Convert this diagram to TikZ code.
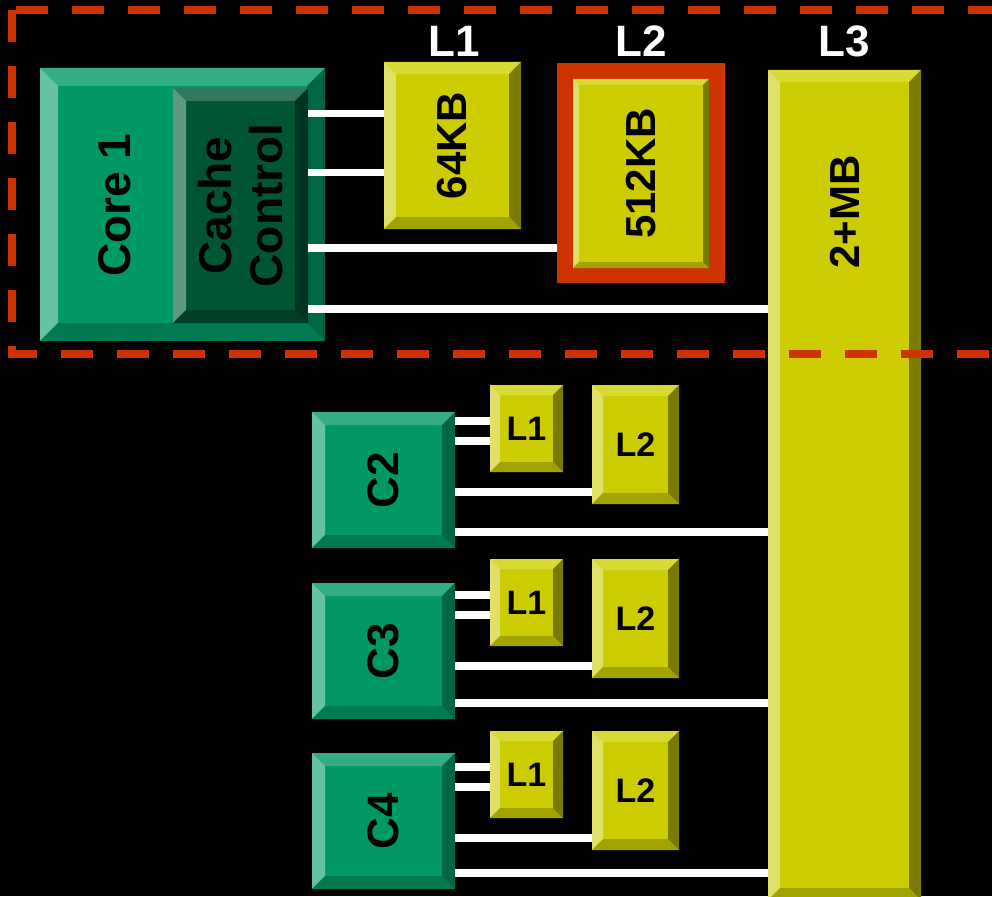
\documentclass[tikz,border=0pt]{standalone}
\usepackage{fontspec}
\setmainfont{Liberation Sans}
\usepackage{graphicx}

\definecolor{frame}{RGB}{204,51,0}
\definecolor{g}{RGB}{0,153,102}
\definecolor{gtop}{RGB}{51,173,133}
\definecolor{gleft}{RGB}{102,194,163}
\definecolor{gbot}{RGB}{0,122,82}
\definecolor{gright}{RGB}{0,102,68}
\definecolor{d}{RGB}{0,85,51}
\definecolor{dtop}{RGB}{53,118,95}
\definecolor{dleft}{RGB}{96,153,131}
\definecolor{dbot}{RGB}{0,62,38}
\definecolor{dright}{RGB}{0,51,33}
\definecolor{yel}{RGB}{204,204,0}
\definecolor{yeltop}{RGB}{217,217,51}
\definecolor{yelleft}{RGB}{224,224,102}
\definecolor{yelbot}{RGB}{163,163,0}
\definecolor{yelright}{RGB}{122,122,0}

% node, bevel width, colour prefix
\newcommand\bevel[3]{%
  \fill [#3top] (#1.north west) -- (#1.north east)
    -- ([shift={(-#2,#2)}]#1.north east) -- ([shift={(#2,#2)}]#1.north west) -- cycle;
  \fill [#3left] (#1.north west) -- ([shift={(#2,#2)}]#1.north west)
    -- ([shift={(#2,-#2)}]#1.south west) -- (#1.south west) -- cycle;
  \fill [#3bot] (#1.south west) -- ([shift={(#2,-#2)}]#1.south west)
    -- ([shift={(-#2,-#2)}]#1.south east) -- (#1.south east) -- cycle;
  \fill [#3right] (#1.north east) -- ([shift={(-#2,#2)}]#1.north east)
    -- ([shift={(-#2,-#2)}]#1.south east) -- (#1.south east) -- cycle;
}

\begin{document}
\begin{tikzpicture}[
    x=1pt, y=-1pt,
    box/.style={anchor=north west, inner sep=0pt, outer sep=0pt},
    corebox/.style={box, fill=g},
    cachebox/.style={box, fill=d},
    yelbox/.style={box, fill=yel},
    bigtext/.style={font=\bfseries\fontsize{46}{51}\selectfont, inner sep=0pt},
    midtext/.style={font=\bfseries\fontsize{42}{42}\selectfont},
    smalltext/.style={font=\bfseries\fontsize{34}{34}\selectfont},
    toplabel/.style={text=white, anchor=base, font=\bfseries\fontsize{44}{44}\selectfont},
    bus/.style={draw=white, line width=7.5},
    dashframe/.style={draw=frame, line width=8, dash pattern=on 32pt off 24pt, line join=miter}]
  \fill [black] (0,0) rectangle (992,896);
  \useasboundingbox (0,0) rectangle (992,896);

  \node [corebox, minimum width=285, minimum height=273] (core1) at (40,68) {};
  \bevel{core1}{18}{g}
  \node [cachebox, minimum width=135, minimum height=235] (cache) at (173,88) {};
  \bevel{cache}{13}{d}
  \node [bigtext, rotate=90] (core1txt) at (115,205) {Core 1};
  \node [bigtext, rotate=90, align=center] (cachetxt) at (cache.center) {Cache\\Control};

  \node [yelbox, midtext, minimum width=137, minimum height=167] (l1big) at (384,62)
    {\rotatebox{90}{64KB}};
  \bevel{l1big}{12}{yel}
  \node [box, fill=frame, minimum width=168, minimum height=220] (l2frame) at (557,63) {};
  \node [yelbox, midtext, minimum width=136, minimum height=189] (l2big) at (573,79)
    {\rotatebox{90}{512KB}};
  \bevel{l2big}{6}{yel}
  \node [yelbox, minimum width=153, minimum height=830] (l3) at (768,70) {};
  \bevel{l3}{12}{yel}
  \node [midtext, rotate=90] (l3txt) at (844.5,212) {2+MB};

  \node [toplabel] (l1lbl) at (454,57) {L1};
  \node [toplabel] (l2lbl) at (l2frame.north |- 0,57) {L2};
  \node [toplabel] (l3lbl) at (l3.north |- 0,57) {L3};

  \draw [bus] (cache.east |- 0,113.5) -- (l1big.west |- 0,113.5);
  \draw [bus] (cache.east |- 0,172.5) -- (l1big.west |- 0,172.5);
  \draw [bus] (cache.east |- 0,248) -- (l2frame.west |- 0,248);
  \draw [bus] (cache.east |- 0,309) -- (l3.west |- 0,309);

  \foreach \n/\t/\c in {2/385/412, 3/559/583, 4/731/753}{
    \node [corebox, font=\bfseries\fontsize{44}{44}\selectfont,
      minimum width=143, minimum height=136] (c\n) at (312,\c) {\rotatebox{90}{C\n}};
    \bevel{c\n}{13}{g}
    \node [yelbox, smalltext, minimum width=73, minimum height=87] (l1c\n) at (490,\t) {L1};
    \bevel{l1c\n}{10}{yel}
    \node [yelbox, smalltext, minimum width=87, minimum height=119] (l2c\n) at (592,\t) {L2};
    \bevel{l2c\n}{11}{yel}
    \draw [bus] (c\n.east |- 0,\t+36) -- (l1c\n.west |- 0,\t+36);
    \draw [bus] (c\n.east |- 0,\t+56) -- (l1c\n.west |- 0,\t+56);
    \draw [bus] (c\n.east |- 0,\t+107) -- (l2c\n.west |- 0,\t+107);
    \draw [bus] (c\n.east |- 0,\c+120) -- (l3.west |- 0,\c+120);
  }

%  \draw [dashframe] (12,10) rectangle (1000,353.5);
  \draw [dashframe] (12,10) -- (12,353.5) -- (1000,353.5);
  \draw [dashframe] (16,10.5) -- (1000,10.5);
\end{tikzpicture}
\end{document}
